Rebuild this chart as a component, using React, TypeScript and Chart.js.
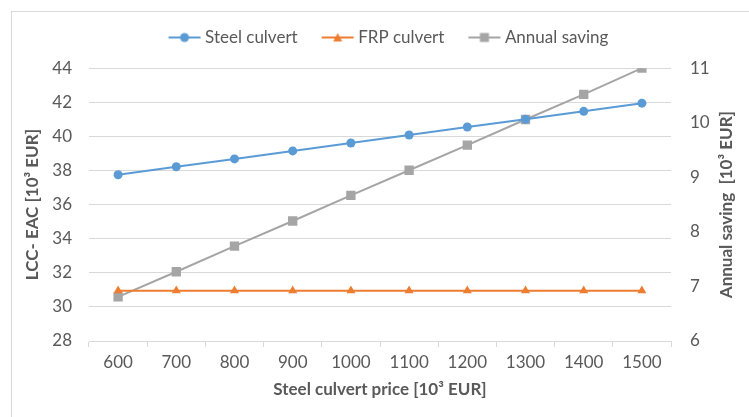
import React, { useEffect, useRef } from "react";
import { Chart, registerables } from "chart.js";

Chart.register(...registerables);

const categories = ["600", "700", "800", "900", "1000", "1100", "1200", "1300", "1400", "1500"];
const steelCulvert = [37.75, 38.22, 38.68, 39.15, 39.61, 40.08, 40.55, 41.0, 41.47, 41.95];
const frpCulvert = [30.95, 30.95, 30.95, 30.95, 30.95, 30.95, 30.95, 30.95, 30.95, 30.95];
const annualSaving = [6.81, 7.27, 7.74, 8.2, 8.67, 9.13, 9.59, 10.06, 10.52, 11.0];

const xTitle = "Steel culvert price [10³ EUR]";
const yTitle = "LCC- EAC [10³ EUR]";
const y1Title = "Annual saving  [10³ EUR]";

const FONT = "Lato, 'Liberation Sans', sans-serif";
const TEXT = "#595959";
const GRID = "#D9D9D9";
const BLUE = "#5B9BD5";
const ORANGE = "#ED7D31";
const GRAY = "#A5A5A5";

function legendIcon(color: string, shape: string): HTMLCanvasElement {
  const c = document.createElement("canvas");
  c.width = 46;
  c.height = 12;
  const ctx = c.getContext("2d")!;
  ctx.strokeStyle = color;
  ctx.lineWidth = 2;
  ctx.beginPath();
  ctx.moveTo(12, 6);
  ctx.lineTo(44, 6);
  ctx.stroke();
  ctx.fillStyle = color;
  ctx.beginPath();
  const cx = 28;
  if (shape === "circle") {
    ctx.arc(cx, 6, 4.5, 0, Math.PI * 2);
  } else if (shape === "triangle") {
    ctx.moveTo(cx, 1.5);
    ctx.lineTo(cx + 4.5, 10);
    ctx.lineTo(cx - 4.5, 10);
    ctx.closePath();
  } else {
    ctx.rect(cx - 4.5, 1.5, 9, 9);
  }
  ctx.fill();
  return c;
}

const rightTitlePlugin = {
  id: "rightTitle",
  afterDraw(chart: any) {
    const s = chart.scales.y1;
    const area = chart.chartArea;
    const ctx = chart.ctx;
    ctx.save();
    ctx.translate(s.right - 22, (area.top + area.bottom) / 2);
    ctx.rotate(-Math.PI / 2);
    ctx.fillStyle = TEXT;
    ctx.font = `bold 17px ${FONT}`;
    ctx.textAlign = "center";
    ctx.textBaseline = "middle";
    ctx.fillText(y1Title, 0, 0);
    ctx.restore();
  },
};

export default function App() {
  const ref = useRef<HTMLCanvasElement>(null);
  useEffect(() => {
    const icons = [legendIcon(BLUE, "circle"), legendIcon(ORANGE, "triangle"), legendIcon(GRAY, "rect")];
    const chart = new Chart(ref.current!, {
      type: "line",
      data: {
        labels: categories,
        datasets: [
          {
            label: "Steel culvert",
            data: steelCulvert,
            borderColor: BLUE,
            backgroundColor: BLUE,
            borderWidth: 2,
            pointStyle: "circle",
            pointRadius: 4.5,
            pointBorderWidth: 0,
            yAxisID: "y",
          },
          {
            label: "FRP culvert",
            data: frpCulvert,
            borderColor: ORANGE,
            backgroundColor: ORANGE,
            borderWidth: 2,
            pointStyle: "triangle",
            pointRadius: 5.2,
            pointBorderWidth: 0,
            yAxisID: "y",
          },
          {
            label: "Annual saving",
            data: annualSaving,
            borderColor: GRAY,
            backgroundColor: GRAY,
            borderWidth: 2,
            pointStyle: "rect",
            pointRadius: 6.6,
            pointBorderWidth: 0,
            yAxisID: "y1",
          },
        ],
      },
      plugins: [rightTitlePlugin],
      options: {
        animation: false,
        responsive: false,
        maintainAspectRatio: false,
        layout: { padding: { left: 22, right: 0, top: 11, bottom: 17 } },
        plugins: {
          tooltip: { enabled: false },
          title: {
            display: true,
            text: " ",
            font: { size: 1 },
            padding: { top: 0, bottom: 11 },
          },
          legend: {
            position: "top",
            weight: 3000,
            labels: {
              color: TEXT,
              font: { family: FONT, size: 17 },
              usePointStyle: true,
              pointStyleWidth: 34,
              padding: 18,
              generateLabels: (ch: any) =>
                ch.data.datasets.map((ds: any, i: number) => ({
                  text: ds.label,
                  pointStyle: icons[i],
                  fillStyle: ds.backgroundColor,
                  strokeStyle: ds.borderColor,
                  lineWidth: 0,
                  fontColor: TEXT,
                  hidden: false,
                  datasetIndex: i,
                })),
            },
          } as any,
        },
        scales: {
          x: {
            type: "category",
            offset: true,
            grid: {
              offset: true,
              drawOnChartArea: false,
              drawTicks: true,
              tickLength: 6,
              color: GRID,
            },
            border: { display: true, color: GRID, width: 1 },
            ticks: { color: TEXT, font: { family: FONT, size: 17 }, padding: 5, maxRotation: 0 },
            title: {
              display: true,
              text: xTitle,
              color: TEXT,
              font: { family: FONT, size: 17, weight: "bold" },
              padding: { top: 0, bottom: 0 },
            },
            afterFit: (s: any) => {
              s.height = 59;
            },
          },
          y: {
            position: "left",
            min: 28,
            max: 44,
            ticks: { stepSize: 2, color: TEXT, font: { family: FONT, size: 17 }, padding: 17 },
            grid: { color: GRID, drawTicks: false, lineWidth: 1 },
            border: { display: false },
            title: {
              display: true,
              text: yTitle,
              color: TEXT,
              font: { family: FONT, size: 17, weight: "bold" },
              padding: { top: 0, bottom: 0 },
            },
            afterFit: (s: any) => {
              s.width = 67;
            },
          },
          y1: {
            position: "right",
            min: 6,
            max: 11,
            ticks: { stepSize: 1, color: TEXT, font: { family: FONT, size: 17 }, padding: 19 },
            grid: { drawOnChartArea: false, drawTicks: false },
            border: { display: false },
            title: { display: false },
            afterFit: (s: any) => {
              s.width = 78;
            },
          },
        },
      },
    });
    return () => chart.destroy();
  }, []);

  return (
    <div style={{ position: "absolute", left: 0, top: 0, width: 749, height: 417, overflow: "hidden", background: "#fff" }}>
      <div
        style={{
          position: "absolute",
          left: 11,
          top: 11,
          width: 760,
          height: 430,
          border: `1px solid ${GRID}`,
          boxSizing: "border-box",
        }}
      />
      <canvas ref={ref} width={749} height={417} style={{ position: "absolute", left: 0, top: 0 }} />
    </div>
  );
}
